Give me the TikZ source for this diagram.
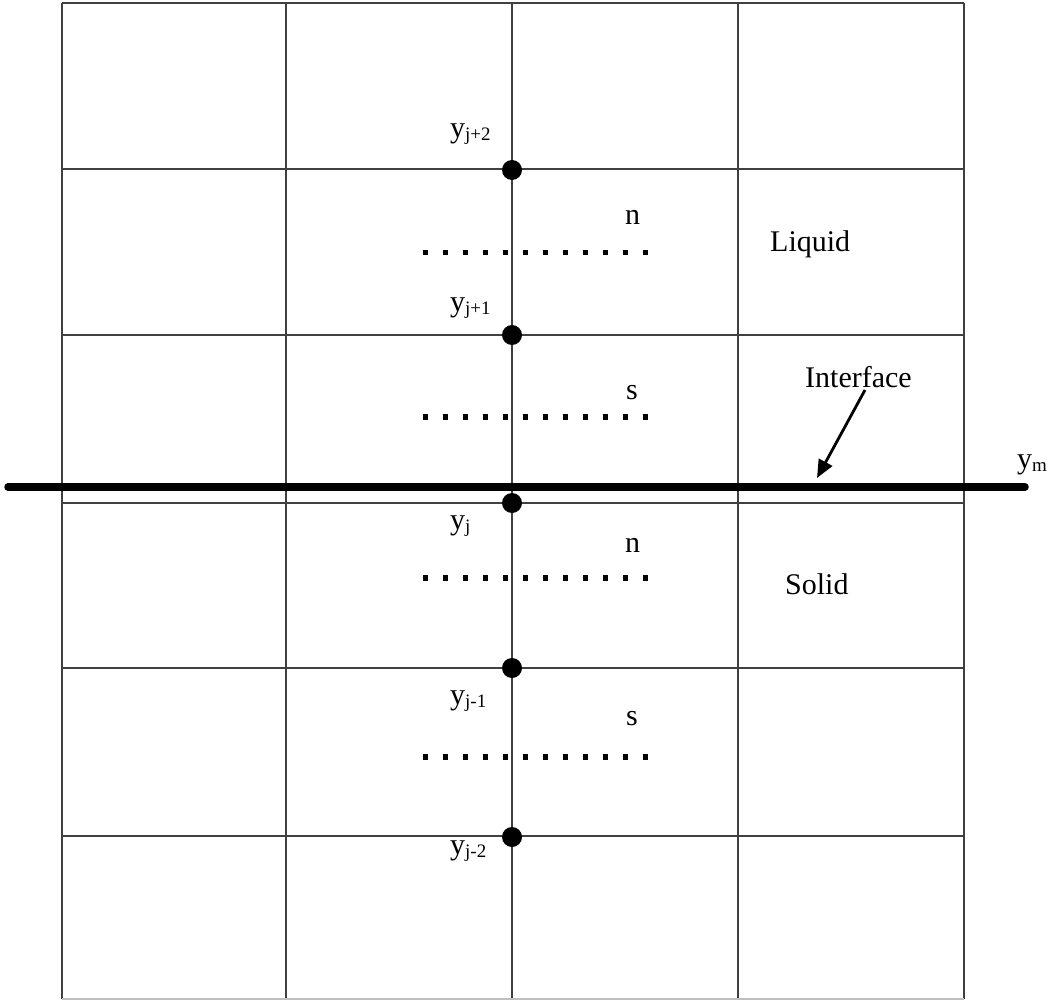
\documentclass[tikz,border=0pt]{standalone}
\usepackage{fontspec}
\setmainfont{Liberation Serif}
\usetikzlibrary{arrows.meta}
\newcommand{\lbl}[2]{y\raisebox{-3pt}{\fontsize{19}{19}\selectfont #2}}
\begin{document}
\begin{tikzpicture}[x=1pt,y=-1pt,
  gridline/.style={draw=black!75,line width=1.6pt},
  interfaceline/.style={draw=black,line width=7.5pt,line cap=round},
  dotrow/.style={draw=black,line width=5.5pt,dash pattern=on 5.5pt off 14.5pt},
  gpoint/.style={circle,fill=black,inner sep=0pt,minimum size=20pt},
  txt/.style={font=\fontsize{30}{36}\selectfont,inner sep=0pt,anchor=base west},
  pointer/.style={draw=black,line width=2.8pt,-{Triangle[length=18pt,width=15pt]}}]
\useasboundingbox (0,0) rectangle (1057,1000);
% grid
\foreach \x in {62,286,512,738,964} \draw[gridline] (\x,3) -- (\x,999);
\foreach \y in {3,169,335,503,668,836} \draw[gridline] (62,\y) -- (964,\y);
\draw[draw=black!25,line width=1.6pt] (62,999) -- (964,999);
% interface
\coordinate (il) at (8,487);
\coordinate (ir) at (1025,487);
\draw[interfaceline] (il) -- (ir);
% dotted rows
\foreach \y in {252.5,417,578,757}
  \draw[dotrow] (422.5,\y) -- (650,\y);
% grid points
\node[gpoint] (p2) at (512,170) {};
\node[gpoint] (p1) at (512,335) {};
\node[gpoint] (p0) at (512,503) {};
\node[gpoint] (m1) at (512,668) {};
\node[gpoint] (m2) at (512,837) {};
% labels
\node[txt] (l2) at (450,138) {\lbl{y}{j+2}};
\node[txt] (l1) at (450,311) {\lbl{y}{j+1}};
\node[txt] (l0) at (450,529) {\lbl{y}{j}};
\node[txt] (lm1) at (450,704) {\lbl{y}{j-1}};
\node[txt] (lm2) at (450,854) {\lbl{y}{j-2}};
\node[txt] (n1) at (625,225) {n};
\node[txt] (s1) at (626,399) {s};
\node[txt] (n2) at (625,552) {n};
\node[txt] (s2) at (626,725) {s};
\node[txt] (liq) at (770,252) {Liquid};
\node[txt] (sol) at (785,594) {Solid};
\node[txt] (intf) at (805,387) {Interface};
\node[txt] (ym) at (1017,468) {y\raisebox{-3pt}{\fontsize{19}{19}\selectfont m}};
\coordinate (tip) at (817,478);
\draw[pointer] (865,390) -- (tip);
\end{tikzpicture}
\end{document}
